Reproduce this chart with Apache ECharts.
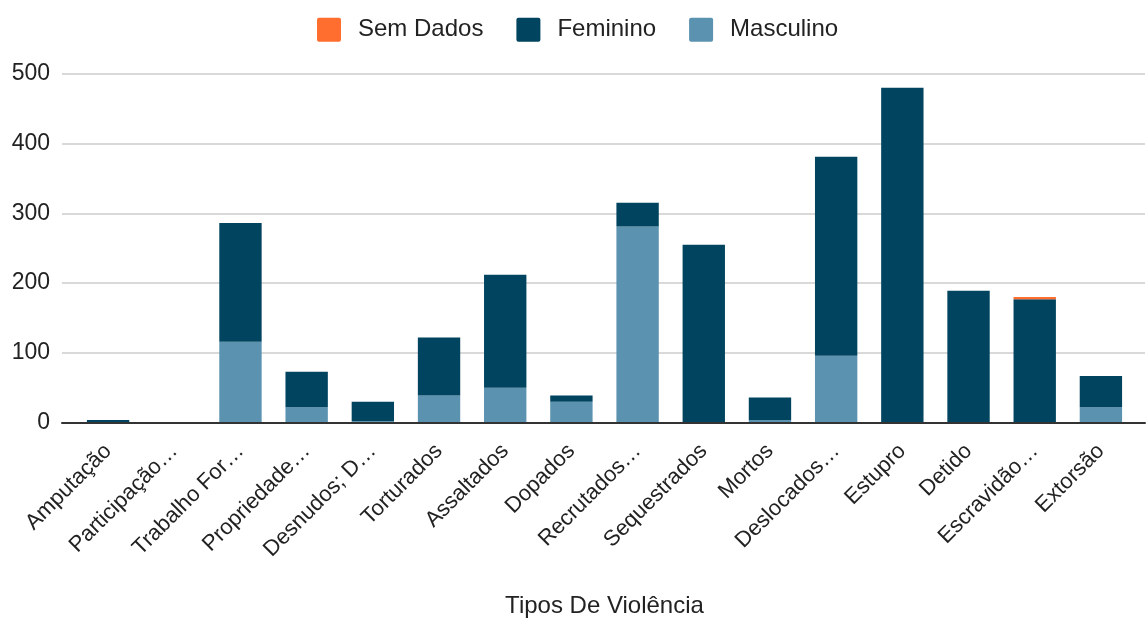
<!DOCTYPE html>
<html>
<head>
<meta charset="utf-8">
<script src="https://cdn.jsdelivr.net/npm/echarts@6/dist/echarts.min.js"></script>
<style>
html,body{margin:0;padding:0;background:#fff;}
#c{width:1146px;height:623px;}
</style>
</head>
<body>
<div id="c"></div>
<script>
const categories = ['Amputação','Participação…','Trabalho For…','Propriedade…','Desnudos; D…','Torturados','Assaltados','Dopados','Recrutados…','Sequestrados','Mortos','Deslocados…','Estupro','Detido','Escravidão…','Extorsão'];
const masculino = [1,1,116,22,2,39,50,30,281,0,4,96,0,0,0,22];
const feminino = [3,0,170,51,28,83,162,9,34,255,32,285,480,189,177,45];
const semDados = [0,0,0,0,0,0,0,0,0,0,0,0,0,0,3,0];
const yTicks = [0,100,200,300,400,500];

const FONT = '"Liberation Sans", Arial, sans-serif';
const chart = echarts.init(document.getElementById('c'));
const gTop = 73.7, gBottom = 623 - 422.7;
chart.setOption({
  animation: false,
  textStyle: {fontFamily: FONT},
  legend: {
    top: 12.7, left: 312,
    data: ['Sem Dados','Feminino','Masculino'],
    icon: 'path://M2,0 H22 A2,2 0 0 1 24,2 V22 A2,2 0 0 1 22,24 H2 A2,2 0 0 1 0,22 V2 A2,2 0 0 1 2,0 Z',
    itemWidth: 24, itemHeight: 24, itemGap: 33,
    textStyle: {fontSize: 24, color: '#222', fontFamily: FONT, padding: [0,0,0,12]}
  },
  grid: [
    {left: 62, right: 1, top: gTop, bottom: gBottom, outerBoundsMode: 'none', containLabel: false},
    {left: 75, right: 12, top: gTop, bottom: gBottom, outerBoundsMode: 'none', containLabel: false}
  ],
  xAxis: [
    {type: 'value', gridIndex: 0, min: 0, max: 1, axisLabel: {show: false}, axisTick: {show: false}, splitLine: {show: false},
     axisLine: {show: true, lineStyle: {color: '#333', width: 2}}, z: 5},
    {type: 'category', gridIndex: 1, data: categories, axisLine: {show: false}, axisTick: {show: false},
     axisLabel: {rotate: 45, interval: 0, fontSize: 22, color: '#222', fontFamily: FONT, margin: 25},
     name: 'Tipos De Violência', nameLocation: 'middle', nameGap: 172,
     nameTextStyle: {fontSize: 24, color: '#222', fontFamily: FONT}}
  ],
  yAxis: [
    {type: 'value', gridIndex: 0, min: 0, max: 500, interval: 100,
     axisLabel: {fontSize: 23, color: '#222', fontFamily: FONT, margin: 12,
       formatter: v => yTicks.includes(v) ? String(v) : ''},
     axisLine: {show: false}, axisTick: {show: false},
     splitLine: {lineStyle: {color: '#cccccc', width: 1.5}}},
    {type: 'value', gridIndex: 1, min: 0, max: 500, interval: 100, show: false, splitLine: {show: false}}
  ],
  series: [
    {name: 'Masculino', type: 'bar', stack: 't', xAxisIndex: 1, yAxisIndex: 1, data: masculino,
     barCategoryGap: '36%', itemStyle: {color: '#5a92b0'}},
    {name: 'Feminino', type: 'bar', stack: 't', xAxisIndex: 1, yAxisIndex: 1, data: feminino,
     barCategoryGap: '36%', itemStyle: {color: '#01445f'}},
    {name: 'Sem Dados', type: 'bar', stack: 't', xAxisIndex: 1, yAxisIndex: 1, data: semDados,
     barCategoryGap: '36%', itemStyle: {color: '#ff6d2f'}}
  ]
});
</script>
</body>
</html>
